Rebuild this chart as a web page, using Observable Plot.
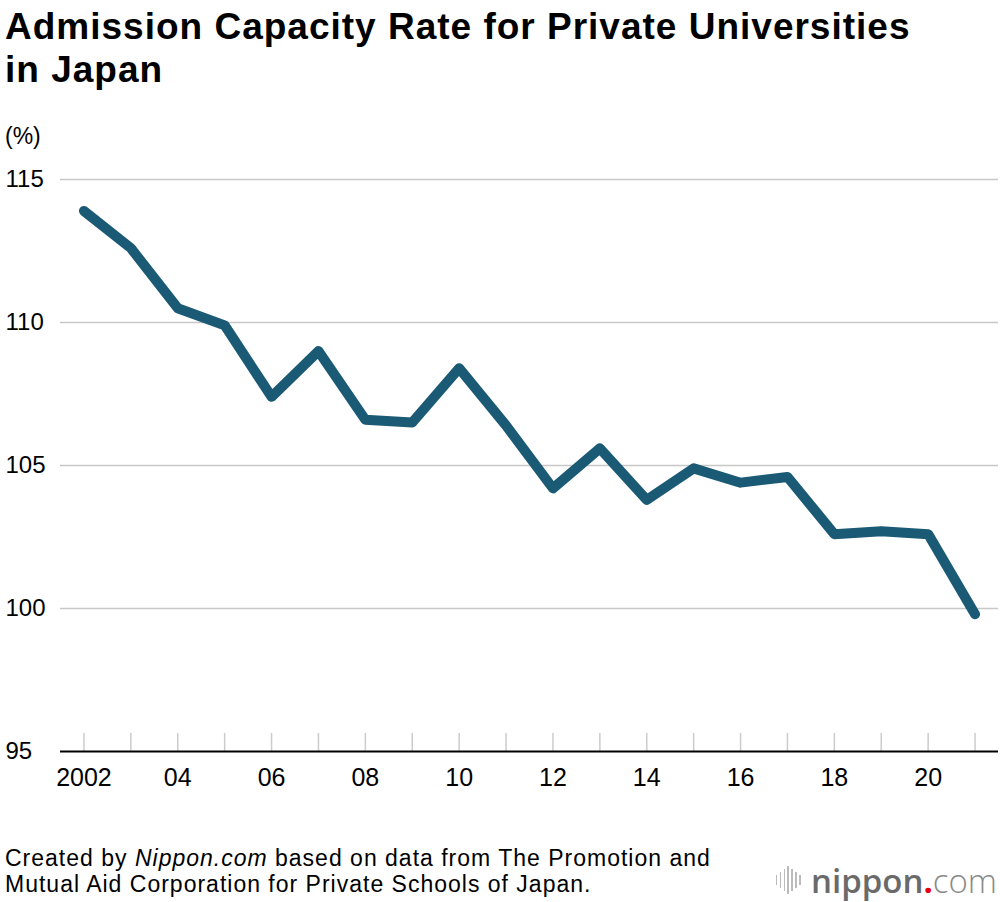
<!DOCTYPE html>
<html>
<head>
<meta charset="utf-8">
<script src="https://cdn.jsdelivr.net/npm/d3@7"></script>
<script src="https://cdn.jsdelivr.net/npm/@observablehq/plot@0.6"></script>
<style>
  html, body { margin: 0; padding: 0; background: #fff; }
  body { width: 1000px; height: 902px; position: relative; overflow: hidden; font-family: "Liberation Sans", Arial, sans-serif; color: #000; }
  #title { position: absolute; left: 5px; top: 5px; font-size: 37px; font-weight: bold; line-height: 43px; letter-spacing: 1px; }
  #unit { position: absolute; left: 5px; top: 123px; font-size: 23px; }
  #chart { position: absolute; left: 0; top: 100px; }
  #caption { position: absolute; left: 5px; top: 845px; font-size: 23px; line-height: 26px; letter-spacing: 1px; }
  #logo { position: absolute; right: 3px; top: 861px; height: 38px; display: flex; align-items: center; white-space: nowrap; }
  #bars { display: flex; align-items: center; gap: 2.4px; margin-right: 10px; height: 30px; }
  #bars div { width: 1.6px; background: #bbb; }
  #logo .n { font-family: "Open Sans", sans-serif; font-size: 33px; font-weight: 600; color: #6a6a6a; }
  #logo .d { font-family: "Open Sans", sans-serif; font-size: 33px; font-weight: 700; color: #e60012; }
  #logo .c { font-family: "Open Sans", sans-serif; font-size: 33px; font-weight: 300; color: #8a8a8a; }
</style>
</head>
<body>
<div id="title">Admission Capacity Rate for Private Universities<br>in Japan</div>
<div id="unit">(%)</div>
<div id="chart"></div>
<div id="caption">Created by <i>Nippon.com</i> based on data from The Promotion and<br>Mutual Aid Corporation for Private Schools of Japan.</div>
<div id="logo"><div id="bars"></div><span class="n">nippon</span><span class="d">.</span><span class="c">com</span></div>
<script>
const years = [2002, 2003, 2004, 2005, 2006, 2007, 2008, 2009, 2010, 2011,
               2012, 2013, 2014, 2015, 2016, 2017, 2018, 2019, 2020, 2021];
const rates = [113.9, 112.6, 110.5, 109.9, 107.4, 109.0, 106.6, 106.5, 108.4, 106.4,
               104.2, 105.6, 103.8, 104.9, 104.4, 104.6, 102.6, 102.7, 102.6, 99.8];
const yTicks = [95, 100, 105, 110, 115];
const gridTicks = [100, 105, 110, 115];
const xLabelYears = [2002, 2004, 2006, 2008, 2010, 2012, 2014, 2016, 2018, 2020];

const data = years.map((year, i) => ({year, rate: rates[i]}));

const chart = Plot.plot({
  width: 1000,
  height: 711,
  marginTop: 79,
  marginBottom: 60,
  marginLeft: 60,
  marginRight: 2,
  style: {fontFamily: "'Liberation Sans', Arial, sans-serif", color: "#000", background: "transparent"},
  x: {domain: [2001.5, 2021.5]},
  y: {domain: [95, 115]},
  marks: [
    Plot.gridY(gridTicks, {stroke: "#c8c8c8", strokeOpacity: 1, strokeWidth: 1.5}),
    Plot.ruleX(years, {x: d => d, y1: 95, y2: 95.63, stroke: "#cccccc", strokeWidth: 1.5}),
    Plot.ruleY([95], {stroke: "#000", strokeWidth: 2}),
    Plot.axisY(yTicks, {tickSize: 0, tickPadding: 55, textAnchor: "start", fontSize: 24, label: null}),
    Plot.axisX(xLabelYears, {tickSize: 0, tickPadding: 17, fontSize: 25, label: null,
      tickFormat: d => d === 2002 ? "2002" : String(d).slice(2)}),
    Plot.line(data, {x: "year", y: "rate", stroke: "#1b5a74", strokeWidth: 10,
      strokeLinecap: "round", strokeLinejoin: "round"})
  ]
});
document.getElementById("chart").appendChild(chart);

const barHeights = [10, 16, 22, 28, 22, 16, 10];
const bars = document.getElementById("bars");
barHeights.forEach(h => { const b = document.createElement("div"); b.style.height = h + "px"; bars.appendChild(b); });
</script>
</body>
</html>
